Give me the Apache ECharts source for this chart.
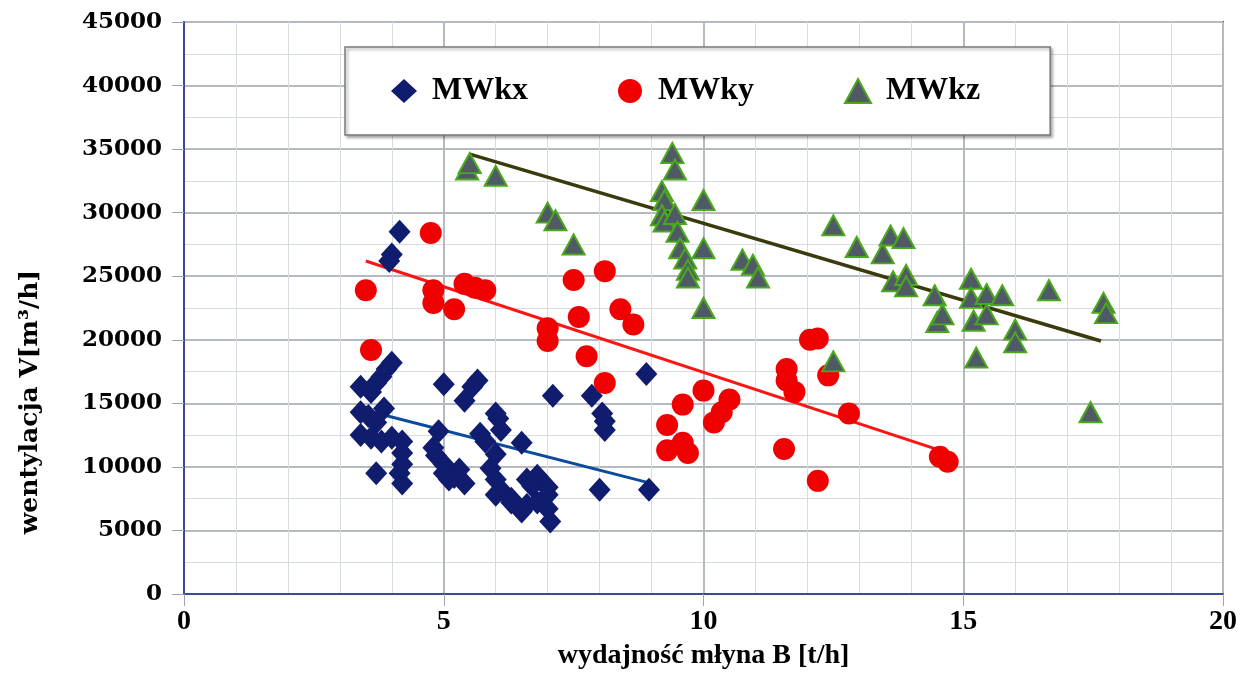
<!DOCTYPE html>
<html>
<head>
<meta charset="utf-8">
<script src="https://cdn.jsdelivr.net/npm/echarts@6/dist/echarts.min.js"></script>
<style>
  html, body { margin: 0; padding: 0; background: #fff; }
  #main { width: 1256px; height: 675px; }
</style>
</head>
<body>
<div id="main"></div>
<script>
// dane: [B t/h, V m3/h]
var mwkx = [
  [4.15, 28500], [4.0, 26700], [3.95, 26200],
  [4.0, 18200], [3.9, 17700], [3.8, 17100], [3.7, 16600], [3.4, 16300], [3.6, 15900],
  [3.4, 14300], [3.55, 14000], [3.7, 13500], [3.85, 14600],
  [3.4, 12500], [3.6, 12300], [3.8, 12000], [4.0, 12300],
  [4.2, 12000], [4.2, 11100], [4.2, 10200], [4.15, 9500], [4.2, 8700], [3.7, 9500],
  [5.0, 16500], [5.4, 15200], [5.65, 16800], [5.55, 16300],
  [4.9, 12800], [4.8, 11500], [4.85, 10900], [5.0, 10200], [5.0, 9500], [5.2, 9200],
  [5.3, 9800], [5.4, 8700], [5.1, 9000],
  [5.7, 12600], [5.8, 12000], [6.05, 13800], [6.0, 14200], [6.1, 12900],
  [6.0, 11000], [5.9, 9900], [6.0, 9000], [6.1, 8200], [6.0, 7800], [6.3, 7500],
  [6.5, 6500], [6.6, 7000], [6.3, 7200],
  [6.5, 11900], [6.6, 9000], [6.7, 8500], [6.8, 9300], [6.9, 8800], [7.0, 8400],
  [7.0, 7800], [6.8, 7200], [7.0, 6700], [7.05, 5700],
  [7.1, 15600], [7.85, 15600], [8.05, 14200], [8.1, 13600], [8.1, 12900], [8.0, 8200],
  [8.9, 17300], [8.95, 8200]
];
var mwky = [
  [3.5, 23900], [3.6, 19200], [4.75, 28400], [4.8, 23900], [4.8, 22900],
  [5.2, 22400], [5.4, 24400], [5.6, 24100], [5.8, 23900],
  [7.0, 20900], [7.0, 19900], [7.5, 24700], [7.6, 21800], [7.75, 18700],
  [8.1, 25400], [8.1, 16600], [8.4, 22400], [8.65, 21200],
  [9.3, 13300], [9.3, 11300], [9.6, 14900], [9.6, 11900], [9.7, 11100],
  [10.0, 16000], [10.2, 13500], [10.35, 14300], [10.5, 15300],
  [11.6, 17700], [11.6, 16800], [11.75, 15900], [11.55, 11400], [12.2, 8900],
  [12.05, 20000], [12.2, 20100], [12.4, 17200], [12.8, 14200],
  [14.55, 10800], [14.7, 10400]
];
var mwkz = [
  [5.45, 33400], [5.5, 33900], [6.0, 32900], [7.0, 30000], [7.15, 29400], [7.5, 27500],
  [9.4, 34700], [9.45, 33400], [9.2, 31700], [9.25, 31000], [9.2, 29800], [9.25, 29300],
  [9.45, 29900], [9.5, 28500], [9.55, 27200], [9.65, 26400], [9.7, 25500], [9.7, 24900],
  [10.0, 31000], [10.0, 27200], [10.0, 22500],
  [10.75, 26300], [10.95, 25900], [11.05, 24900],
  [12.5, 29000], [12.5, 18300], [12.95, 27300],
  [13.45, 26800], [13.6, 28200], [13.65, 24600], [13.85, 28000], [13.9, 25100], [13.9, 24200],
  [14.45, 23500], [14.5, 21400], [14.6, 22000],
  [15.15, 24800], [15.15, 23300], [15.2, 21500], [15.25, 18600], [15.45, 23600],
  [15.45, 22000], [15.75, 23500], [16.0, 20800], [16.0, 19800],
  [16.65, 23900], [17.45, 14300], [17.7, 22900], [17.75, 22100]
];
// linie trendu (końce)
var trendX = [[3.45, 14500], [8.9, 8800]];
var trendY = [[3.5, 26200], [14.7, 11100]];
var trendZ = [[5.5, 34600], [17.65, 19900]];

var serif = 'Liberation Serif';
var chart = echarts.init(document.getElementById('main'));

function trend(data, color, w) {
  return {
    type: 'line', data: data, symbol: 'none', silent: true, z: 3,
    lineStyle: { color: color, width: w }
  };
}

chart.setOption({
  animation: false,
  grid: {
    left: 184, right: 33, top: 22, bottom: 79,
    show: true, borderColor: '#3b4a96', borderWidth: 2
  },
  legend: {
    data: ['MWkx', 'MWky', 'MWkz'],
    left: 345, top: 47,
    padding: [28, 70, 28, 46],
    itemGap: 90,
    itemWidth: 26, itemHeight: 24,
    backgroundColor: '#fff',
    borderColor: '#7a7a7a', borderWidth: 1.5,
    shadowColor: 'rgba(0,0,0,0.35)', shadowBlur: 3, shadowOffsetX: 2, shadowOffsetY: 2,
    textStyle: { fontFamily: serif, fontWeight: 'bold', fontSize: 32, color: '#000', padding: [0, 0, 0, 10] }
  },
  xAxis: {
    type: 'value', min: 0, max: 20, interval: 5,
    name: 'wydajność młyna B [t/h]', nameLocation: 'middle', nameGap: 48,
    nameTextStyle: { fontFamily: serif, fontWeight: 'bold', fontSize: 28, color: '#000' },
    axisLine: { show: true, lineStyle: { color: '#3b4a96', width: 2 } },
    axisTick: { show: true, length: 12, lineStyle: { color: '#9aa4b0', width: 1 } },
    axisLabel: { fontFamily: serif, fontWeight: 'bold', fontSize: 28, color: '#000', margin: 14 },
    splitLine: { show: true, lineStyle: { color: '#b4bac0', width: 2 } },
    minorTick: { show: false, splitNumber: 5 },
    minorSplitLine: { show: true, lineStyle: { color: '#d7dce2', width: 1 } }
  },
  yAxis: {
    type: 'value', min: 0, max: 45000, interval: 5000,
    axisLine: { show: true, lineStyle: { color: '#3b4a96', width: 2 } },
    axisTick: { show: true, length: 12, lineStyle: { color: '#9aa4b0', width: 1 } },
    axisLabel: {
      fontFamily: 'DejaVu Serif', fontWeight: 'bold', fontSize: 23, color: '#000', margin: 22,
      formatter: function (v) { return String(v); }
    },
    splitLine: { show: true, lineStyle: { color: '#b4bac0', width: 2 } },
    minorTick: { show: false, splitNumber: 2 },
    minorSplitLine: { show: true, lineStyle: { color: '#d7dce2', width: 1 } }
  },
  graphic: [{
    type: 'text', x: 30, y: 402, rotation: Math.PI / 2,
    style: {
      text: 'wentylacja V[m³/h]', align: 'center', verticalAlign: 'middle',
      font: 'bold 25px "DejaVu Serif"', fill: '#000'
    }
  }],
  series: [
    {
      name: 'MWkx', type: 'scatter', data: mwkx, symbol: 'diamond', symbolSize: [22, 24],
      itemStyle: { color: '#101c6e', opacity: 1 }, z: 4
    },
    {
      name: 'MWky', type: 'scatter', data: mwky, symbol: 'circle', symbolSize: 22,
      itemStyle: { color: '#f00000', opacity: 1 }, z: 4
    },
    {
      name: 'MWkz', type: 'scatter', data: mwkz, symbol: 'triangle', symbolSize: [22, 20],
      itemStyle: { color: '#505a66', borderColor: '#4aa81c', borderWidth: 2, opacity: 1 }, z: 4
    },
    trend(trendX, '#0c4a9c', 3),
    trend(trendY, '#ff1414', 3),
    trend(trendZ, '#3a3a0c', 3.5)
  ]
});
</script>
</body>
</html>
